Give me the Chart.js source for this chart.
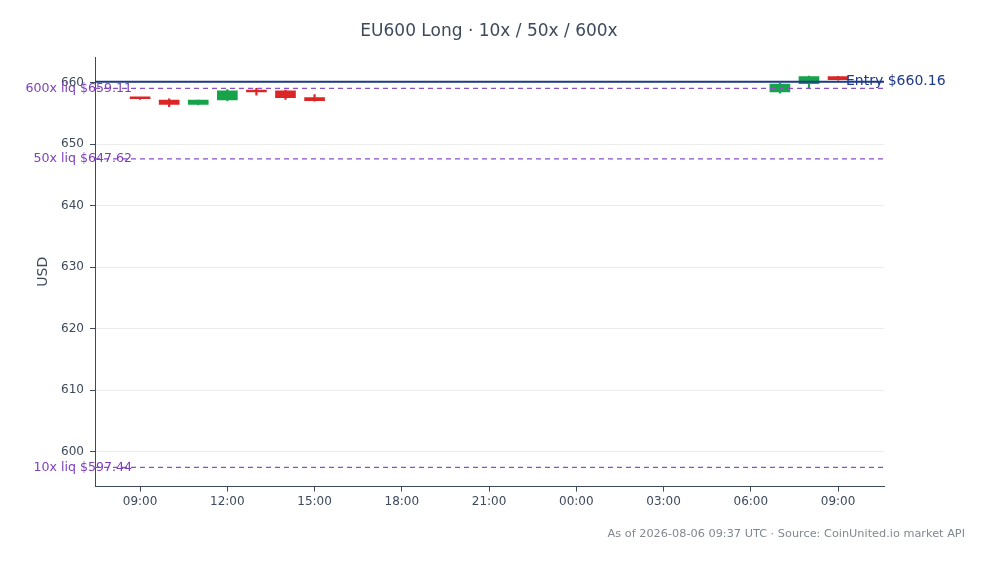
<!DOCTYPE html><html><head><meta charset="utf-8">
<script src="https://cdn.jsdelivr.net/npm/chart.js@4"></script>
<style>html,body{margin:0;padding:0;background:#fff}#w{width:989px;height:564px}</style></head><body><div id="w"><canvas id="c"></canvas></div>
<script>
// hours since 00:00 of first day
const hours = [9,10,11,12,13,14,15,31,32,33];
const opens  = [657.5,657.2,656.5,657.2,658.7,658.7,657.6,658.5,659.85,661.0];
const highs  = [657.6,657.4,657.2,658.9,659.1,658.8,658.1,659.9,661.1,661.05];
const lows   = [657.3,656.1,656.4,657.1,658.0,657.3,657.0,658.3,659.2,660.45];
const closes = [657.4,656.5,657.2,658.7,658.5,657.6,657.1,659.8,661.0,660.5];
const entry = 660.16;
const liqLevels = [659.11,647.62,597.44];
const liqLabels = ['600x liq $659.11','50x liq $647.62','10x liq $597.44'];
const yTicks = [600,610,620,630,640,650,660];
const GREEN='#16a34a', RED='#dc2626';
const col = hours.map((h,i)=>closes[i]>=opens[i]?GREEN:RED);
const lines = {id:'lines',afterDatasetsDraw(ch){
  const {ctx,chartArea:a,scales:{y}}=ch;ctx.save();
  ctx.setLineDash([5,4]);ctx.strokeStyle='#8b4fc9';ctx.lineWidth=1.3;
  liqLevels.forEach((v,i)=>{const p=y.getPixelForValue(v);ctx.beginPath();ctx.moveTo(a.left,p);ctx.lineTo(a.right,p);ctx.stroke();});
  ctx.setLineDash([]);ctx.strokeStyle='#1e3a8a';ctx.lineWidth=2;
  const e=y.getPixelForValue(entry);ctx.beginPath();ctx.moveTo(a.left,e);ctx.lineTo(a.right,e);ctx.stroke();
  ctx.font='12.6px "DejaVu Sans"';ctx.fillStyle='#7e3fc0';ctx.textAlign='right';ctx.textBaseline='middle';
  liqLevels.forEach((v,i)=>ctx.fillText(liqLabels[i],132,y.getPixelForValue(v)));
  ctx.font='14px "DejaVu Sans"';ctx.fillStyle='#1e3a8a';ctx.textAlign='left';ctx.fillText('Entry $660.16',846,e);
  ctx.font='11.3px "DejaVu Sans"';ctx.fillStyle='#808890';ctx.textAlign='right';
  ctx.fillText('As of 2026-08-06 09:37 UTC · Source: CoinUnited.io market API',965,534);
  ctx.font='17px "DejaVu Sans"';ctx.fillStyle='#3d4a5c';ctx.textAlign='center';
  ctx.fillText('EU600 Long · 10x / 50x / 600x',489,32);
  ctx.font='14px "DejaVu Sans"';ctx.translate(43,(a.top+a.bottom)/2);ctx.rotate(-Math.PI/2);ctx.fillText('USD',0,0);
  ctx.restore();}};
new Chart(document.getElementById('c'),{type:'bar',
 data:{datasets:[
  {data:hours.map((h,i)=>({x:h,y:[lows[i],highs[i]]})),backgroundColor:col,barThickness:1.5,grouped:false,order:2},
  {data:hours.map((h,i)=>({x:h,y:[opens[i],closes[i]]})),backgroundColor:col,barThickness:20,grouped:false,order:1,minBarLength:2}
 ]},
 options:{responsive:true,maintainAspectRatio:false,animation:false,
  layout:{padding:{left:0,right:105,bottom:52,top:57}},
  plugins:{legend:{display:false},tooltip:{enabled:false},title:{display:false}},
  scales:{
   x:{type:'linear',min:7.45,max:34.58,offset:false,
    afterBuildTicks(s){s.ticks=[9,12,15,18,21,24,27,30,33].map(v=>({value:v}));},
    ticks:{color:'#3d4a5c',font:{family:'DejaVu Sans',size:12},maxRotation:0,callback:v=>String(v%24).padStart(2,'0')+':00'},
    grid:{display:true,offset:false,drawOnChartArea:false,tickLength:5,tickColor:'#3d4a5c'},border:{color:'#3d4a5c'}},
   y:{min:594.3,max:664.2,
    afterBuildTicks(s){s.ticks=yTicks.map(v=>({value:v}));},
    afterFit(s){s.width=95;},
    ticks:{color:'#3d4a5c',font:{family:'DejaVu Sans',size:12},padding:6},
    title:{display:false},
    grid:{color:'#ececec',tickLength:5,tickColor:'#3d4a5c'},border:{color:'#3d4a5c'}}}},
 plugins:[lines]});
</script></body></html>
